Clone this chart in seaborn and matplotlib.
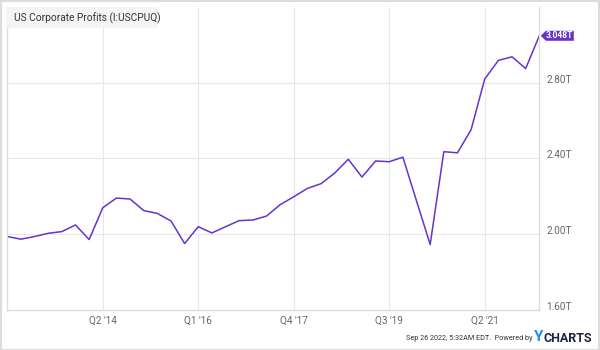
import matplotlib
matplotlib.use("Agg")
import matplotlib.pyplot as plt
import seaborn as sns
import pandas as pd
from matplotlib import font_manager
from matplotlib.patches import Rectangle, Polygon
from matplotlib.transforms import IdentityTransform

# ---- data ----
quarters = ["Q3 '12", "Q4 '12", "Q1 '13", "Q2 '13", "Q3 '13", "Q4 '13",
            "Q1 '14", "Q2 '14", "Q3 '14", "Q4 '14", "Q1 '15", "Q2 '15",
            "Q3 '15", "Q4 '15", "Q1 '16", "Q2 '16", "Q3 '16", "Q4 '16",
            "Q1 '17", "Q2 '17", "Q3 '17", "Q4 '17", "Q1 '18", "Q2 '18",
            "Q3 '18", "Q4 '18", "Q1 '19", "Q2 '19", "Q3 '19", "Q4 '19",
            "Q1 '20", "Q2 '20", "Q3 '20", "Q4 '20", "Q1 '21", "Q2 '21",
            "Q3 '21", "Q4 '21", "Q1 '22", "Q2 '22"]
profits_t = [1.988, 1.974, 1.988, 2.005, 2.014, 2.049,
             1.972, 2.140, 2.191, 2.186, 2.125, 2.110,
             2.070, 1.951, 2.040, 2.007, 2.040, 2.072,
             2.075, 2.096, 2.156, 2.198, 2.242, 2.267,
             2.323, 2.396, 2.302, 2.387, 2.383, 2.407,
             2.176, 1.946, 2.436, 2.430, 2.552, 2.820,
             2.918, 2.937, 2.875, 3.048]
x_tick_labels = ["Q2 '14", "Q1 '16", "Q4 '17", "Q3 '19", "Q2 '21"]
y_ticks = [1.6, 2.0, 2.4, 2.8]
y_tick_labels = ["1.60T", "2.00T", "2.40T", "2.80T"]
title = "US Corporate Profits (I:USCPUQ)"
last_label = "3.048T"
footer = "Sep 26 2022, 5:32AM EDT.  Powered by"

df = pd.DataFrame({"idx": range(len(quarters)), "quarter": quarters, "value": profits_t})

# ---- style ----
sns.set_theme(style="white")
names = {f.name for f in font_manager.fontManager.ttflist}
main_font = "Liberation Sans Narrow" if "Liberation Sans Narrow" in names else "Roboto"
plt.rcParams['font.family'] = [main_font, 'DejaVu Sans']

purple = "#6634c9"
grid_c = "#e8e8e8"
frame_c = "#dddddd"
tick_c = "#666666"

W, H = 600, 350
fig = plt.figure(figsize=(W / 100, H / 100), dpi=100)
fig.patch.set_facecolor("white")
ax = fig.add_axes([7.3 / W, 40 / H, 532 / W, 303 / H])

sns.lineplot(data=df, x="idx", y="value", ax=ax, color=purple, linewidth=1.1)

ax.set_xlim(0, len(quarters) - 1)
ax.set_ylim(1.6, 3.2)
ax.set_xlabel("")
ax.set_ylabel("")

xt = [quarters.index(q) for q in x_tick_labels]
ax.set_xticks(xt)
ax.set_xticklabels(x_tick_labels)
ax.set_yticks(y_ticks)
ax.set_yticklabels(y_tick_labels)
ax.yaxis.tick_right()
ax.tick_params(axis="both", length=0, colors=tick_c, labelsize=7.2)
ax.tick_params(axis="y", pad=5)
ax.tick_params(axis="x", pad=4)
for lbl in ax.get_yticklabels():
    lbl.set_va("baseline")

ax.grid(True, color=grid_c, linewidth=0.8)
ax.set_axisbelow(True)
for side in ["left", "bottom", "right"]:
    ax.spines[side].set_color(frame_c)
    ax.spines[side].set_linewidth(1.0)
ax.spines["top"].set_visible(False)

# title box
fig.add_artist(Rectangle((7 / W, 1 - 28 / H), 151 / W, 21 / H, transform=fig.transFigure,
                         facecolor="#f4f4f4", edgecolor="none", zorder=5))
fig.text(14 / W, 1 - 18 / H, title, ha="left", va="center", fontsize=7.3,
         color="#333333", zorder=6)

# outer frame
fig.add_artist(Rectangle((0.5 / W, 0.5 / H), (W - 1.5) / W, (H - 1.5) / H,
                         transform=fig.transFigure, fill=False, edgecolor="#dcdcdc",
                         linewidth=1.5, zorder=10))

# last value tag anchored to last data point
fig.canvas.draw()
px, py = ax.transData.transform((df["idx"].iloc[-1], df["value"].iloc[-1]))
tx0 = px + 1.5
poly = Polygon([(tx0, py), (tx0 + 5, py + 5), (tx0 + 33, py + 5),
                (tx0 + 33, py - 5), (tx0 + 5, py - 5)], closed=True,
               transform=IdentityTransform(), facecolor=purple, edgecolor="none",
               zorder=8, clip_on=False)
fig.add_artist(poly)
fig.text((tx0 + 19) / W, py / H, last_label, ha="center", va="center",
         fontsize=6.2, color="white", fontweight="bold", zorder=9)

# footer
fig.text(532 / W, 1 - 338 / H, footer, ha="right", va="center", fontsize=5.2,
         color="#333333")
fig.text(534 / W, 1 - 337 / H, "Y", ha="left", va="center", fontsize=11,
         color="#1a8cff", fontweight="bold")
fig.text(544 / W, 1 - 338 / H, "CHARTS", ha="left", va="center", fontsize=9,
         color="#1c2340", fontweight="bold")

fig.savefig("out.png", dpi=100, facecolor="white")
